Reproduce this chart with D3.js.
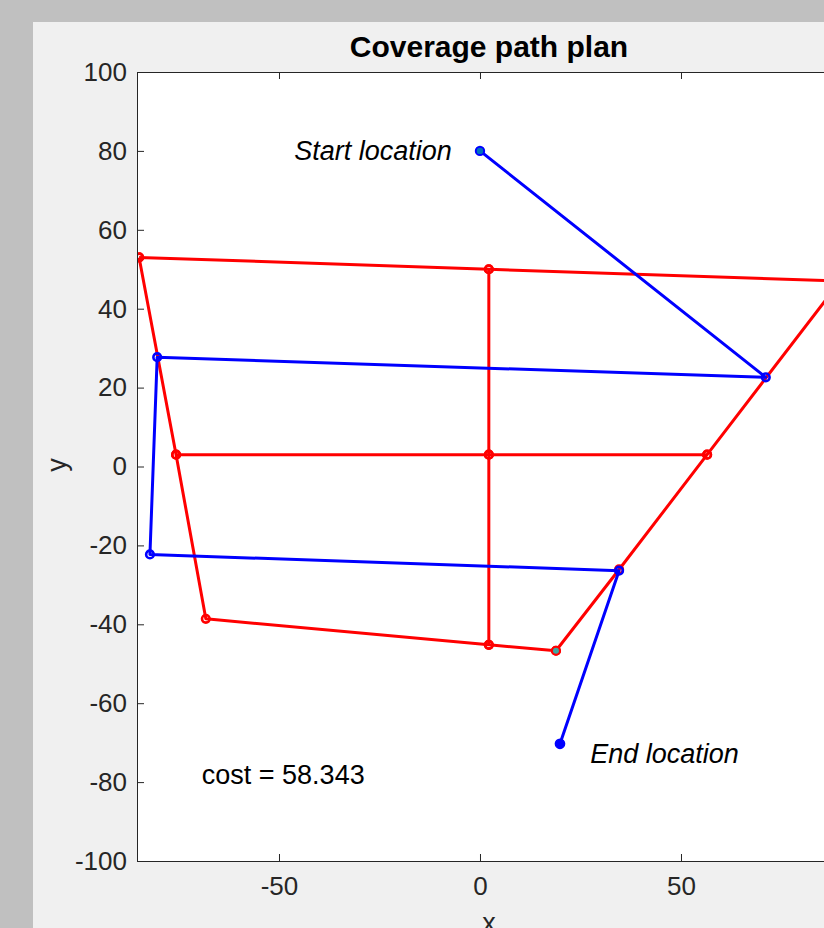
<!DOCTYPE html>
<html><head><meta charset="utf-8">
<script src="https://cdn.jsdelivr.net/npm/d3@7"></script>
<style>
html,body{margin:0;padding:0;background:#c0c0c0;overflow:hidden;}
svg{display:block;}
text{font-family:"Liberation Sans",Arial,Helvetica,sans-serif;}
</style></head>
<body>
<script>
// ---- data ----
const title = "Coverage path plan";
const xTicks = [-50, 0, 50];
const yTicks = [-100, -80, -60, -40, -20, 0, 20, 40, 60, 80, 100];
// outer red boundary polygon (x, y)
const boundaryX = [-84.8, 2.2, 89.6, 56.5, 34.6, 18.9, 2.2, -68.2, -75.6, -84.8];
const boundaryY = [53.0, 50.0, 47.0, 3.0, -26.1, -46.7, -45.2, -38.6, 3.0, 53.0];
// inner red decomposition lines
const midRowX = [-75.6, 2.2, 56.5];
const midRowY = [3.0, 3.0, 3.0];
const midColX = [2.2, 2.2, 2.2];
const midColY = [50.0, 3.0, -45.2];
// blue coverage path
const pathX = [0, 71.1, -80.3, -82.1, 34.6, 19.9];
const pathY = [80.0, 22.6, 27.7, -22.3, -26.4, -70.3];
const highlightX = [18.9];
const highlightY = [-46.7];
const startLabel = {text: "Start location", x: -7.0, y: 80.0};
const endLabel = {text: "End location", x: 27.4, y: -72.8};
const costLabel = {text: "cost = 58.343", x: -69.2, y: -78.0};

(function () {
// ---- layout ----
const W = 824, H = 928;
const svg = d3.select("body").append("svg").attr("width", W).attr("height", H);
svg.append("rect").attr("x", 33).attr("y", 22).attr("width", W).attr("height", H).attr("fill", "#f0f0f0");

const x = d3.scaleLinear().domain([-85.32, 90]).range([137, 137 + 175.32 * 4.02]);
const y = d3.scaleLinear().domain([-100, 100]).range([861, 72]);
const axColor = "#262626";
const fmt = d => String(d); // plain hyphen-minus like MATLAB

const pL = 137, pR = x(90), pT = 72, pB = 861;
svg.append("rect").attr("x", pL).attr("y", pT).attr("width", pR - pL).attr("height", pB - pT).attr("fill", "#fff");

svg.append("clipPath").attr("id", "clip").append("rect")
  .attr("x", pL).attr("y", pT).attr("width", pR - pL).attr("height", pB - pT);

const g = svg.append("g").attr("clip-path", "url(#clip)");
const line = d3.line().x(d => x(d[0])).y(d => y(d[1]));
const zip = (a, b) => a.map((v, i) => [v, b[i]]);

const red = "#ff0000", blue = "#0000ff";
const lw = 3;
g.append("path").attr("d", line(zip(boundaryX, boundaryY))).attr("fill", "none").attr("stroke", red).attr("stroke-width", lw).attr("stroke-linejoin", "round");
g.append("path").attr("d", line(zip(midRowX, midRowY))).attr("fill", "none").attr("stroke", red).attr("stroke-width", lw);
g.append("path").attr("d", line(zip(midColX, midColY))).attr("fill", "none").attr("stroke", red).attr("stroke-width", lw);

const redPts = zip(boundaryX, boundaryY).concat(zip(midRowX, midRowY), zip(midColX, midColY));
g.selectAll("circle.r").data(redPts).join("circle").attr("class", "r")
  .attr("cx", d => x(d[0])).attr("cy", d => y(d[1])).attr("r", 3.8)
  .attr("fill", "none").attr("stroke", red).attr("stroke-width", 2.6);
g.selectAll("circle.h").data(zip(highlightX, highlightY)).join("circle").attr("class", "h")
  .attr("cx", d => x(d[0])).attr("cy", d => y(d[1])).attr("r", 4)
  .attr("fill", "#3fa7a0").attr("stroke", red).attr("stroke-width", 2);

g.append("path").attr("d", line(zip(pathX, pathY))).attr("fill", "none").attr("stroke", blue).attr("stroke-width", lw).attr("stroke-linejoin", "round");
const bluePts = zip(pathX, pathY).slice(1, -1);
g.selectAll("circle.b").data(bluePts).join("circle").attr("class", "b")
  .attr("cx", d => x(d[0])).attr("cy", d => y(d[1])).attr("r", 3.8)
  .attr("fill", "none").attr("stroke", blue).attr("stroke-width", 2.6);
g.append("circle").attr("cx", x(pathX[0])).attr("cy", y(pathY[0])).attr("r", 4.2)
  .attr("fill", "#0072bd").attr("stroke", blue).attr("stroke-width", 2);
g.append("circle").attr("cx", x(pathX[pathX.length - 1])).attr("cy", y(pathY[pathY.length - 1])).attr("r", 4.6)
  .attr("fill", blue).attr("stroke", blue).attr("stroke-width", 1.5);

// axes
const axB = svg.append("g").attr("transform", `translate(0,${pB})`)
  .call(d3.axisBottom(x).tickValues(xTicks).tickSize(-7).tickPadding(16).tickFormat(fmt));
const axT = svg.append("g").attr("transform", `translate(0,${pT})`)
  .call(d3.axisTop(x).tickValues(xTicks).tickSize(-7).tickFormat(""));
const axL = svg.append("g").attr("transform", `translate(${pL},0)`)
  .call(d3.axisLeft(y).tickValues(yTicks).tickSize(-7).tickPadding(10).tickFormat(fmt));
[axB, axT, axL].forEach(a => {
  a.select(".domain").attr("stroke", axColor).attr("stroke-width", 1);
  a.selectAll(".tick line").attr("stroke", axColor).attr("stroke-width", 1);
  a.selectAll(".tick text").attr("fill", axColor).attr("font-size", 26).attr("font-family", '"Liberation Sans",Arial,sans-serif');
});
axB.selectAll(".tick text").attr("dy", "0.71em");

// labels
svg.append("text").attr("x", 489).attr("y", 57).attr("text-anchor", "middle")
  .attr("font-size", 30).attr("font-weight", "bold").attr("fill", "#000").text(title);
svg.append("text").attr("transform", "translate(66,465) rotate(-90)").attr("text-anchor", "middle")
  .attr("font-size", 27).attr("fill", axColor).text("y");
svg.append("text").attr("x", 489).attr("y", 932).attr("text-anchor", "middle")
  .attr("font-size", 27).attr("fill", axColor).text("x");

svg.append("text").attr("x", x(startLabel.x)).attr("y", y(startLabel.y)).attr("dy", "0.35em").attr("text-anchor", "end")
  .attr("font-size", 27).attr("font-style", "italic").attr("fill", "#000").text(startLabel.text);
svg.append("text").attr("x", x(endLabel.x)).attr("y", y(endLabel.y)).attr("dy", "0.35em")
  .attr("font-size", 27).attr("font-style", "italic").attr("fill", "#000").text(endLabel.text);
svg.append("text").attr("x", x(costLabel.x)).attr("y", y(costLabel.y)).attr("dy", "0.35em")
  .attr("font-size", 27).attr("fill", "#000").text(costLabel.text);
})();
</script>
</body></html>
